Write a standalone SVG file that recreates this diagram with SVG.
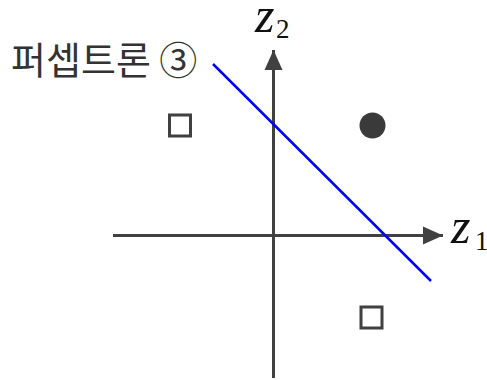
<svg xmlns="http://www.w3.org/2000/svg" width="487" height="380" viewBox="0 0 487 380">
<style>
.ax{stroke:#404040;stroke-width:3;fill:none}
.pt{stroke:#404040;stroke-width:3;fill:#fff}
.lbl{font-family:"Liberation Serif",serif;font-style:italic;fill:#111}
.sub{font-family:"Liberation Serif",serif;fill:#111}
.kr{font-family:"Noto Sans CJK KR","Noto Sans",sans-serif;font-size:38px;fill:#333}
</style>
<defs>
<marker id="arr" viewBox="0 0 20 20" refX="20" refY="10" markerWidth="20" markerHeight="20" markerUnits="userSpaceOnUse" orient="auto">
<path d="M0,1 L20,10 L0,19 Z" fill="#404040"/>
</marker>
</defs>
<g id="connectors">
<line class="ax" x1="273.5" y1="378" x2="273.5" y2="50" marker-end="url(#arr)"/>
<line class="ax" x1="113" y1="235.5" x2="443" y2="235.5" marker-end="url(#arr)"/>
<line x1="213" y1="64" x2="431" y2="281" stroke="#0000ff" stroke-width="2.5"/>
</g>
<g id="axis-z2"><text class="lbl" x="255" y="32" font-size="50">z</text><text class="sub" x="276" y="38" font-size="27">2</text></g>
<g id="axis-z1"><text class="lbl" x="451" y="243" font-size="50">z</text><text class="sub" x="475" y="250" font-size="27">1</text></g>
<g id="perceptron-label"><text class="kr" x="11" y="74">퍼셉트론 ③</text></g>
<g id="square-1"><rect class="pt" x="169.5" y="115" width="21" height="21"/></g>
<g id="square-2"><rect class="pt" x="361" y="307" width="21" height="21"/></g>
<g id="circle-1"><circle cx="372.5" cy="125.5" r="13" fill="#3a3a3a"/></g>
</svg>
